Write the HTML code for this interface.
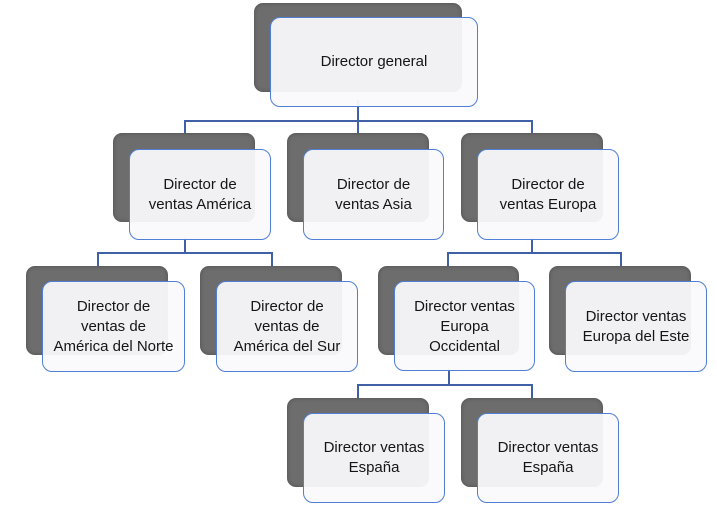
<!DOCTYPE html>
<html><head><meta charset="utf-8"><style>
body{margin:0;width:717px;height:514px;background:#fff;position:relative;overflow:hidden;font-family:"Liberation Sans",sans-serif;}
.b{position:absolute;background:#6d6d6d;border-radius:9px;box-shadow:inset 0 0 4px rgba(0,0,0,.3);}
.f{position:absolute;background:rgba(250,249,252,.94);border:1.6px solid #4f7fd6;border-radius:10px;box-sizing:border-box;display:flex;align-items:center;justify-content:center;text-align:center;font-size:15px;line-height:20px;color:#151515;}
.l{position:absolute;background:#3f5fa6;}
</style></head><body>
<div class="l" style="left:357px;top:100px;width:1.5px;height:21px"></div>
<div class="l" style="left:184px;top:120px;width:348px;height:1.5px"></div>
<div class="l" style="left:184px;top:120px;width:1.5px;height:14px"></div>
<div class="l" style="left:357px;top:120px;width:1.5px;height:14px"></div>
<div class="l" style="left:531px;top:120px;width:1.5px;height:14px"></div>
<div class="l" style="left:184px;top:238px;width:1.5px;height:15px"></div>
<div class="l" style="left:97px;top:252px;width:175px;height:1.5px"></div>
<div class="l" style="left:97px;top:252px;width:1.5px;height:15px"></div>
<div class="l" style="left:271px;top:252px;width:1.5px;height:15px"></div>
<div class="l" style="left:531px;top:238px;width:1.5px;height:15px"></div>
<div class="l" style="left:447px;top:252px;width:174px;height:1.5px"></div>
<div class="l" style="left:447px;top:252px;width:1.5px;height:15px"></div>
<div class="l" style="left:620px;top:252px;width:1.5px;height:15px"></div>
<div class="l" style="left:448px;top:369px;width:1.5px;height:15px"></div>
<div class="l" style="left:357px;top:384px;width:175px;height:1.5px"></div>
<div class="l" style="left:357px;top:384px;width:1.5px;height:15px"></div>
<div class="l" style="left:531px;top:384px;width:1.5px;height:15px"></div>

<div class="b" style="left:254px;top:3px;width:208px;height:89px"></div>
<div class="f" style="left:270px;top:17px;width:208px;height:90px">Director general</div>

<div class="b" style="left:113px;top:133px;width:142px;height:89px"></div>
<div class="f" style="left:129px;top:149px;width:142px;height:91px">Director de<br>ventas América</div>
<div class="b" style="left:287px;top:133px;width:142px;height:89px"></div>
<div class="f" style="left:303px;top:149px;width:141px;height:91px">Director de<br>ventas Asia</div>
<div class="b" style="left:461px;top:133px;width:142px;height:89px"></div>
<div class="f" style="left:477px;top:149px;width:142px;height:91px">Director de<br>ventas Europa</div>

<div class="b" style="left:26px;top:266px;width:142px;height:89px"></div>
<div class="f" style="left:42px;top:281px;width:143px;height:91px">Director de<br>ventas de<br>América del Norte</div>
<div class="b" style="left:200px;top:266px;width:142px;height:89px"></div>
<div class="f" style="left:216px;top:281px;width:142px;height:91px">Director de<br>ventas de<br>América del Sur</div>
<div class="b" style="left:378px;top:266px;width:141px;height:89px"></div>
<div class="f" style="left:394px;top:281px;width:141px;height:90px;align-items:flex-start;padding-top:15px">Director ventas<br>Europa<br>Occidental</div>
<div class="b" style="left:549px;top:266px;width:142px;height:89px"></div>
<div class="f" style="left:565px;top:281px;width:142px;height:91px">Director ventas<br>Europa del Este</div>

<div class="b" style="left:287px;top:398px;width:142px;height:89px"></div>
<div class="f" style="left:303px;top:413px;width:142px;height:90px">Director ventas<br>España</div>
<div class="b" style="left:461px;top:398px;width:142px;height:89px"></div>
<div class="f" style="left:477px;top:413px;width:142px;height:90px">Director ventas<br>España</div>
</body></html>
